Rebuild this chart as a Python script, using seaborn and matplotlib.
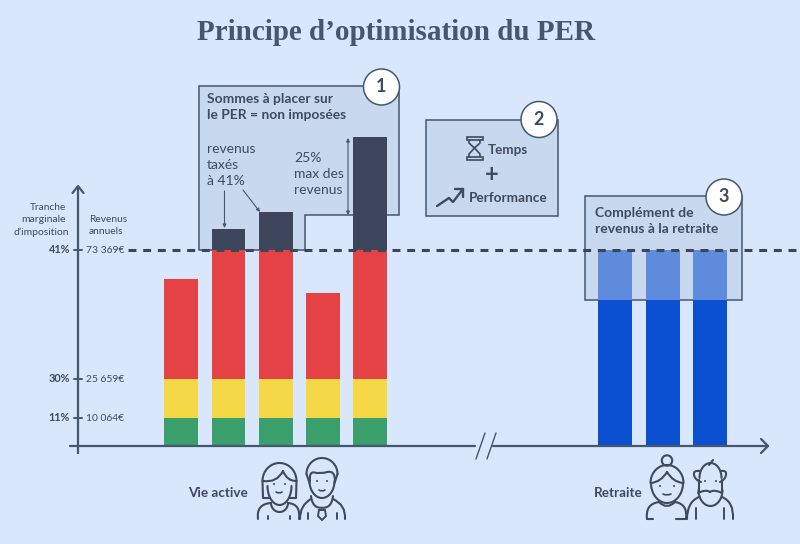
import numpy as np
import pandas as pd
import matplotlib
matplotlib.use("Agg")
import matplotlib.pyplot as plt
import seaborn as sns
from matplotlib.path import Path
from matplotlib.patches import PathPatch, Circle, Polygon, Rectangle

# hauteurs (px), empilees de bas en haut
annees_actives = ["A1", "A2", "A3", "A4", "A5"]
tranche_11 = [28, 28, 28, 28, 28]
tranche_30 = [39, 39, 39, 39, 39]
tranche_41 = [100, 129, 129, 86, 129]
au_dessus = [0, 21, 38, 0, 113]

annees_retraite = ["R1", "R2", "R3"]
pension = [146, 146, 146]
complement = [50, 50, 50]

tranches = ["11%", "30%", "41%"]
revenus = ["10 064€", "25 659€", "73 369€"]

BG = "#d8e7fb"
BOX = "#c8d9ef"
DARK = "#3c4559"
LINE = "#46566c"
TXT = "#3f4a5c"
W, H = 800, 544
BASE = 446  # ligne de base en px

sns.set_theme(style="white")
plt.rcParams["font.family"] = ["Lato", "DejaVu Sans"]

fig = plt.figure(figsize=(8, 5.44), dpi=100, facecolor=BG)


def overlay(z):
    a = fig.add_axes([0, 0, 1, 1], zorder=z)
    a.set_xlim(0, W)
    a.set_ylim(H, 0)
    a.axis("off")
    a.patch.set_alpha(0)
    return a


def bar_axes(x0, x1, z=1):
    a = fig.add_axes([x0 / W, (H - BASE) / H, (x1 - x0) / W, 340 / H], zorder=z)
    a.patch.set_alpha(0)
    return a


def stacked(a, cats, layers):
    # on trace du plus haut cumul au plus bas, chaque couche recouvre la precedente
    cum = np.cumsum([l for l, _ in layers], axis=0)
    for total, (_, col) in zip(cum[::-1], layers[::-1]):
        df = pd.DataFrame({"annee": cats, "cumul": total})
        sns.barplot(data=df, x="annee", y="cumul", color=col, width=0.715,
                    saturation=1, linewidth=0, ax=a)
    a.set_ylim(0, 340)
    a.set_xlabel("")
    a.set_ylabel("")
    a.set_xticks([])
    a.set_yticks([])
    sns.despine(ax=a, left=True, bottom=True)


back = overlay(0)
ax_act = bar_axes(157.6, 394)
ax_ret = bar_axes(591.5, 734)
front = overlay(3)

stacked(ax_act, annees_actives, [(tranche_11, "#3a9f6a"), (tranche_30, "#f5d845"),
                                 (tranche_41, "#e44244"), (au_dessus, DARK)])
stacked(ax_ret, annees_retraite, [(pension, "#0a50d0"), (complement, "#5f8bdc")])

# encadres derriere les barres
box_kw = dict(facecolor=BOX, edgecolor=LINE, linewidth=1.1, joinstyle="miter")
back.add_patch(Polygon([(199, 86), (399, 86), (399, 215), (305, 215), (305, 250), (199, 250)],
                       closed=True, **box_kw))
back.add_patch(Rectangle((425.5, 119.5), 132, 96.5, **box_kw))
back.add_patch(Rectangle((584.5, 195.5), 157.5, 104.5, **box_kw))

front.text(396, 33, "Principe d’optimisation du PER", ha="center", va="center",
           family="Liberation Serif", weight="bold", fontsize=21, color="#47566e")

# axes
front.plot([78, 78], [187, 454], color=LINE, lw=1.6, solid_capstyle="butt")
front.plot([72.5, 78, 83.5], [193, 186, 193], color=LINE, lw=1.6)
front.plot([70, 475], [446, 446], color=LINE, lw=1.6)
front.plot([493, 768], [446, 446], color=LINE, lw=1.6)
front.plot([761, 768, 761], [439, 446, 453], color=LINE, lw=1.6)
front.plot([476, 485], [459, 433], color=LINE, lw=1.0)
front.plot([487, 496], [459, 433], color=LINE, lw=1.0)

# graduations
niveaux = BASE - np.cumsum([tranche_11[0], tranche_30[0], tranche_41[1]])
for y, t, r in zip(niveaux, tranches, revenus):
    front.plot([74, 82], [y, y], color=LINE, lw=1.4)
    front.text(70, y - 0.5, t, ha="right", va="center", fontsize=7.8, weight="bold", color=TXT)
    front.text(86, y + 0.5, r, ha="left", va="center", fontsize=7.4, color=TXT)

front.text(66, 208, "Tranche", ha="right", va="center", fontsize=7.3, color=TXT)
front.text(66, 220, "marginale", ha="right", va="center", fontsize=7.5, color=TXT)
front.text(69, 232, "d’imposition", ha="right", va="center", fontsize=7.5, color=TXT)
front.text(89, 220, "Revenus", ha="left", va="center", fontsize=7.4, color=TXT)
front.text(89, 232, "annuels", ha="left", va="center", fontsize=7.4, color=TXT)

# ligne de la tranche a 41%
front.plot([128, 800], [250, 250], color=DARK, lw=2.2, dashes=(2.6, 2.2), dash_capstyle="butt")

# encadre 1
front.text(207, 99, "Sommes à placer sur", va="center", fontsize=9.9, weight="bold", color=TXT)
front.text(207, 115, "le PER = non imposées", va="center", fontsize=9.9, weight="bold", color=TXT)
for i, s in enumerate(["revenus", "taxés", "à 41%"]):
    front.text(207, 149 + 16 * i, s, va="center", fontsize=10, color=TXT)
for i, s in enumerate(["25%", "max des", "revenus"]):
    front.text(294, 158 + 16 * i, s, va="center", fontsize=10, color=TXT)
arrow = dict(arrowstyle="-|>", color=LINE, lw=0.8, mutation_scale=5, shrinkA=0, shrinkB=0)
front.annotate("", xy=(224.5, 228), xytext=(224.5, 191), arrowprops=arrow)
front.annotate("", xy=(260, 212), xytext=(243, 190), arrowprops=arrow)
front.annotate("", xy=(348, 138), xytext=(348, 215),
               arrowprops=dict(arrow, arrowstyle="<|-|>"))

# encadre 2
front.text(488, 150, "Temps", va="center", fontsize=9.6, weight="bold", color=TXT)
front.text(492, 174, "+", ha="center", va="center", fontsize=17, weight="bold", color=TXT)
front.text(469, 198, "Performance", va="center", fontsize=9.8, weight="bold", color=TXT)

# encadre 3
front.text(595, 213, "Complément de", va="center", fontsize=10, weight="bold", color=TXT)
front.text(595, 229, "revenus à la retraite", va="center", fontsize=10, weight="bold", color=TXT)

# pastilles numerotees
for (cx, cy), n in zip([(381.5, 87), (539, 119.5), (724, 197)], ["1", "2", "3"]):
    front.add_patch(Circle((cx, cy), 18, facecolor="white", edgecolor=LINE, lw=1.1, zorder=4))
    front.text(cx, cy, n, ha="center", va="center", fontsize=13, weight="bold",
               color=TXT, zorder=5)

front.text(188, 493, "Vie active", va="center", fontsize=9.7, weight="bold", color=TXT)
front.text(594, 493, "Retraite", va="center", fontsize=9.7, weight="bold", color=TXT)


# pictos, traces a la main
def stroke(pts, lw=1.5):
    pts = [np.array(p, float) for p in pts]
    verts, codes = [pts[0]], [Path.MOVETO]
    for i in range(1, len(pts) - 1):
        end = (pts[i] + pts[i + 1]) / 2 if i < len(pts) - 2 else pts[i + 1]
        verts += [pts[i], end]
        codes += [Path.CURVE3, Path.CURVE3]
    front.add_patch(PathPatch(Path(verts, codes), fill=False, edgecolor=TXT, lw=lw,
                              capstyle="round", joinstyle="round"))


def seg(xs, ys, lw=1.5):
    front.plot(xs, ys, color=TXT, lw=lw, solid_capstyle="round")


def arc(cx, cy, rx, ry, top=True, lw=1.5):
    # demi-ellipse, haut ou bas (y vers le bas)
    t = np.linspace(0, np.pi, 40)
    sign = -1 if top else 1
    seg(cx + rx * np.cos(t), cy + sign * ry * np.sin(t), lw)


def dot(x, y, r=1):
    front.add_patch(Circle((x, y), r, color=TXT, lw=0))


# sablier
front.add_patch(Rectangle((466.5, 136.5), 16, 3.5, fill=False, edgecolor=TXT, lw=1.2))
front.add_patch(Rectangle((466.5, 156.5), 16, 3.5, fill=False, edgecolor=TXT, lw=1.2))
seg([469, 469, 474.5, 469, 469], [140, 143, 148, 154, 156.5], 1.2)
seg([480, 480, 474.5, 480, 480], [140, 143, 148, 154, 156.5], 1.2)
# courbe de performance
seg([437, 449, 453, 463], [206, 198, 202, 189], 1.7)
seg([455, 463, 463], [189, 189, 197], 1.7)

# femme
arc(279.5, 481, 17, 18)
seg([262.5, 263, 270], [481, 498, 498])
seg([296.5, 296, 289], [481, 498, 498])
stroke([(263, 481), (277, 483), (283, 471)])
stroke([(283, 471), (287, 481), (296, 481)])
arc(279.5, 486, 12, 19, top=False)
stroke([(258, 519), (256, 504), (271, 503)])
arc(279.5, 503, 8.5, 9, top=False)
stroke([(288, 503), (301, 504), (299, 519)])
dot(274, 484); dot(285, 484)
stroke([(276, 492), (279, 494), (282, 492)], 1.2)
seg([268, 268], [516, 519], 1.4)
seg([290, 290], [516, 519], 1.4)
# homme
arc(322, 474, 15.5, 16)
seg([306.5, 309.5], [474, 483])
seg([337.5, 334.5], [474, 483])
stroke([(310, 481), (309, 471), (320, 474), (335, 470), (335, 481)])
arc(322, 481, 12.5, 17, top=False)
dot(317, 481); dot(327, 481)
stroke([(319, 490), (322, 492), (325, 490)], 1.2)
stroke([(300, 519), (300, 505), (311, 499)])
stroke([(333, 499), (346, 505), (345, 519)])
stroke([(311, 496), (312, 505), (322, 509), (332, 505), (333, 496)])
front.add_patch(Polygon([(319, 510), (325, 510), (326, 516), (322, 520), (318, 516)],
                        closed=True, fill=False, edgecolor=TXT, lw=1.4))
seg([308, 308], [513, 519], 1.4)
seg([337, 337], [513, 519], 1.4)

# grand-mere
front.add_patch(Circle((667, 460.5), 5.2, fill=False, edgecolor=TXT, lw=1.5))
arc(667, 483, 16.5, 18)
stroke([(651, 483), (661, 482), (667, 472)])
stroke([(667, 472), (673, 482), (683, 483)])
arc(667, 483, 16, 20, top=False)
dot(660, 486); dot(674, 486)
stroke([(663, 494), (667, 496), (671, 494)], 1.2)
stroke([(647, 519), (645, 504), (659, 502)])
stroke([(659, 502), (667, 510), (675, 502)])
stroke([(675, 502), (688, 504), (686, 519)])
seg([647, 653], [519, 519])
seg([676, 686], [519, 519])
# grand-pere
arc(710.5, 478, 11, 15)
stroke([(700, 471), (693, 470), (695, 480), (701, 482)])
stroke([(721, 471), (727, 470), (725, 480), (720, 482)])
seg([699, 699], [480, 492])
seg([722, 722], [480, 492])
arc(710.5, 490, 12, 16, top=False)
stroke([(698, 493), (706, 489), (710, 492)])
stroke([(710, 492), (714, 489), (722, 493)])
seg([709, 713], [465, 460])
dot(705, 481); dot(716, 481)
stroke([(687, 519), (687, 502), (699, 497)])
stroke([(722, 497), (734, 502), (733, 519)])
seg([696, 696], [508, 519], 1.4)
seg([724, 724], [508, 519], 1.4)

fig.savefig("out.png", dpi=100, facecolor=BG)
